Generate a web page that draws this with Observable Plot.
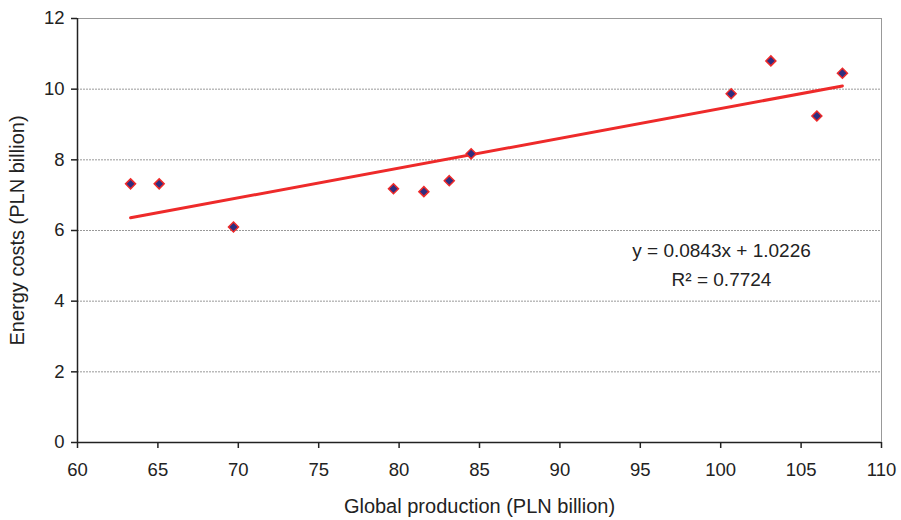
<!DOCTYPE html>
<html>
<head>
<meta charset="utf-8">
<script src="https://cdn.jsdelivr.net/npm/d3@7"></script>
<script src="https://cdn.jsdelivr.net/npm/@observablehq/plot@0.6"></script>
<style>
  html, body { margin: 0; padding: 0; background: #fff; }
  #chart svg { display: block; }
</style>
</head>
<body>
<div id="chart"></div>
<script>
const production = [63.3, 65.08, 69.7, 79.65, 81.54, 83.12, 84.48, 100.65, 103.12, 105.98, 107.57];
const energyCosts = [7.32, 7.32, 6.1, 7.18, 7.1, 7.41, 8.17, 9.87, 10.8, 9.24, 10.45];
const xTicks = [60, 65, 70, 75, 80, 85, 90, 95, 100, 105, 110];
const yTicks = [0, 2, 4, 6, 8, 10, 12];
const gridTicks = [2, 4, 6, 8, 10];
const slope = 0.0843;
const intercept = 1.0226;
const equationLabel = "y = 0.0843x + 1.0226";
const r2Label = "R² = 0.7724";

const points = production.map((x, i) => ({x, y: energyCosts[i]}));
const [xMin, xMax] = d3.extent(production);
const fitLine = [xMin, xMax].map(x => ({x, y: slope * x + intercept}));

const font = "'Liberation Sans', Arial, sans-serif";

const chart = Plot.plot({
  width: 901,
  height: 520,
  marginLeft: 77,
  marginRight: 20,
  marginTop: 18,
  marginBottom: 78,
  style: {fontFamily: font, fontSize: "19px", color: "#222", background: "#fff"},
  x: {domain: [60, 110], label: null},
  y: {domain: [0, 12], label: null},
  marks: [
    Plot.ruleY(gridTicks, {stroke: "#999", strokeDasharray: "2,1", strokeWidth: 1}),
    Plot.ruleY([12], {stroke: "#999", strokeWidth: 1}),
    Plot.ruleX([110], {stroke: "#999", strokeWidth: 1}),
    Plot.axisX({ticks: xTicks, tickSize: 6, tickPadding: 14, stroke: "#222", strokeWidth: 1.5, fontSize: 18.5, label: null}),
    Plot.axisY({ticks: yTicks, tickSize: 6, tickPadding: 7, stroke: "#222", strokeWidth: 1.5, fontSize: 18.5, label: null}),
    Plot.ruleX([60], {stroke: "#222", strokeWidth: 1.5}),
    Plot.ruleY([0], {stroke: "#222", strokeWidth: 1.5}),
    Plot.line(fitLine, {x: "x", y: "y", stroke: "#ee2a2a", strokeWidth: 3}),
    Plot.dot(points, {x: "x", y: "y", symbol: "diamond2", r: 4.5, fill: "#2e2e80", stroke: "#ee2a2a", strokeWidth: 1.5}),
    Plot.text([equationLabel], {x: 100.05, y: 5.41, text: d => d, fontSize: 19, fill: "#222"}),
    Plot.text([r2Label], {x: 100.05, y: 4.59, text: d => d, fontSize: 19, fill: "#222"}),
    Plot.text(["Global production (PLN billion)"], {frameAnchor: "bottom", dy: 70, text: d => d, fontSize: 20, fill: "#222"}),
    Plot.text(["Energy costs (PLN billion)"], {frameAnchor: "left", dx: -60, rotate: -90, textAnchor: "middle", text: d => d, fontSize: 20, fill: "#222"})
  ]
});
document.getElementById("chart").appendChild(chart);
</script>
</body>
</html>
